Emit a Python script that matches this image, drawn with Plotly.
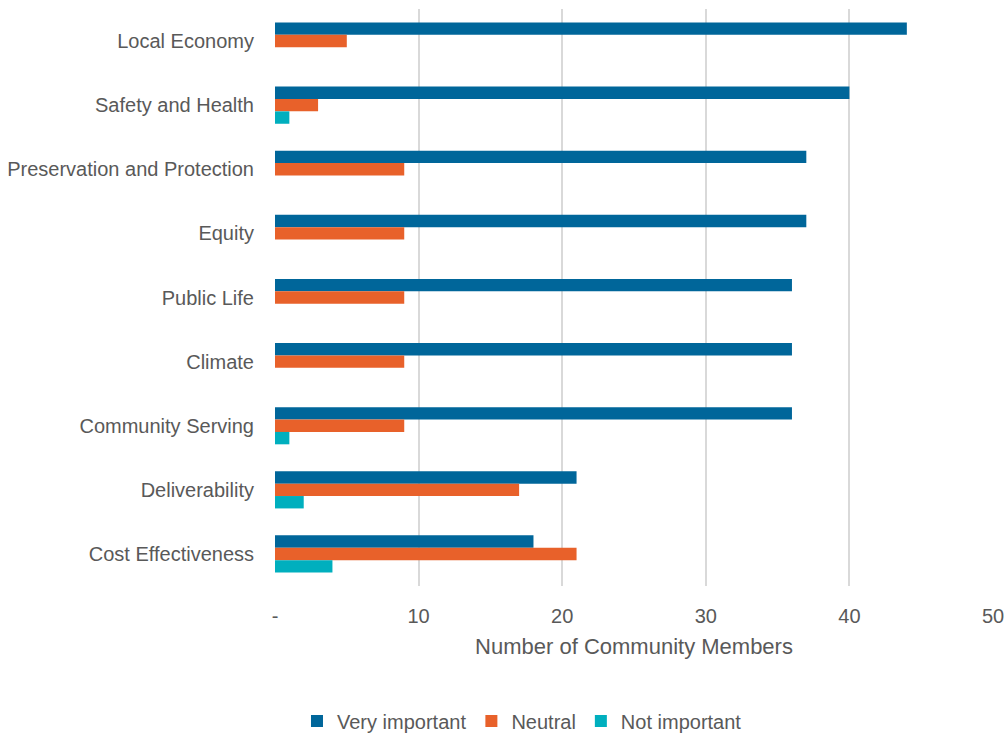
import plotly.graph_objects as go

categories = ["Local Economy", "Safety and Health", "Preservation and Protection", "Equity",
              "Public Life", "Climate", "Community Serving", "Deliverability", "Cost Effectiveness"]
very_important = [44, 40, 37, 37, 36, 36, 36, 21, 18]
neutral = [5, 3, 9, 9, 9, 9, 9, 17, 21]
not_important = [0, 1, 0, 0, 0, 0, 1, 2, 4]
tick_vals = [0, 10, 20, 30, 40, 50]
tick_text = ["-", "10", "20", "30", "40", "50"]

font_family = "Liberation Sans, Arial, sans-serif"
text_color = "#595959"

fig = go.Figure()
for name, vals, color in [("Very important", very_important, "#00669A"),
                          ("Neutral", neutral, "#E8612A"),
                          ("Not important", not_important, "#00AFBE")]:
    fig.add_trace(go.Bar(y=categories, x=vals, name=name, orientation="h",
                         marker=dict(color=color, line=dict(width=0))))

fig.update_layout(
    barmode="group",
    bargap=0.42,
    bargroupgap=0,
    width=1005, height=736,
    margin=dict(l=275, r=12, t=9, b=150, autoexpand=False),
    plot_bgcolor="white", paper_bgcolor="white",
    font=dict(family=font_family, color=text_color, size=20),
    xaxis=dict(range=[0, 50], tickvals=tick_vals, ticktext=tick_text,
               showgrid=True, gridcolor="#D9D9D9", gridwidth=2,
               zeroline=False, showline=False, ticks="", automargin=False,
               ticklabelstandoff=16,
               tickfont=dict(size=20, color=text_color),
               title=dict(text="Number of Community Members", font=dict(size=22, color=text_color), standoff=12)),
    yaxis=dict(autorange="reversed", showgrid=False, zeroline=False, showline=False,
               ticks="", ticklabelstandoff=20, automargin=False,
               tickfont=dict(size=20, color=text_color)),
    legend=dict(orientation="h", x=0.344, xanchor="center", y=-0.200, yanchor="top",
                font=dict(size=20, color=text_color), traceorder="normal",
                itemwidth=30),
    showlegend=True,
)
fig.write_html("out.html")
